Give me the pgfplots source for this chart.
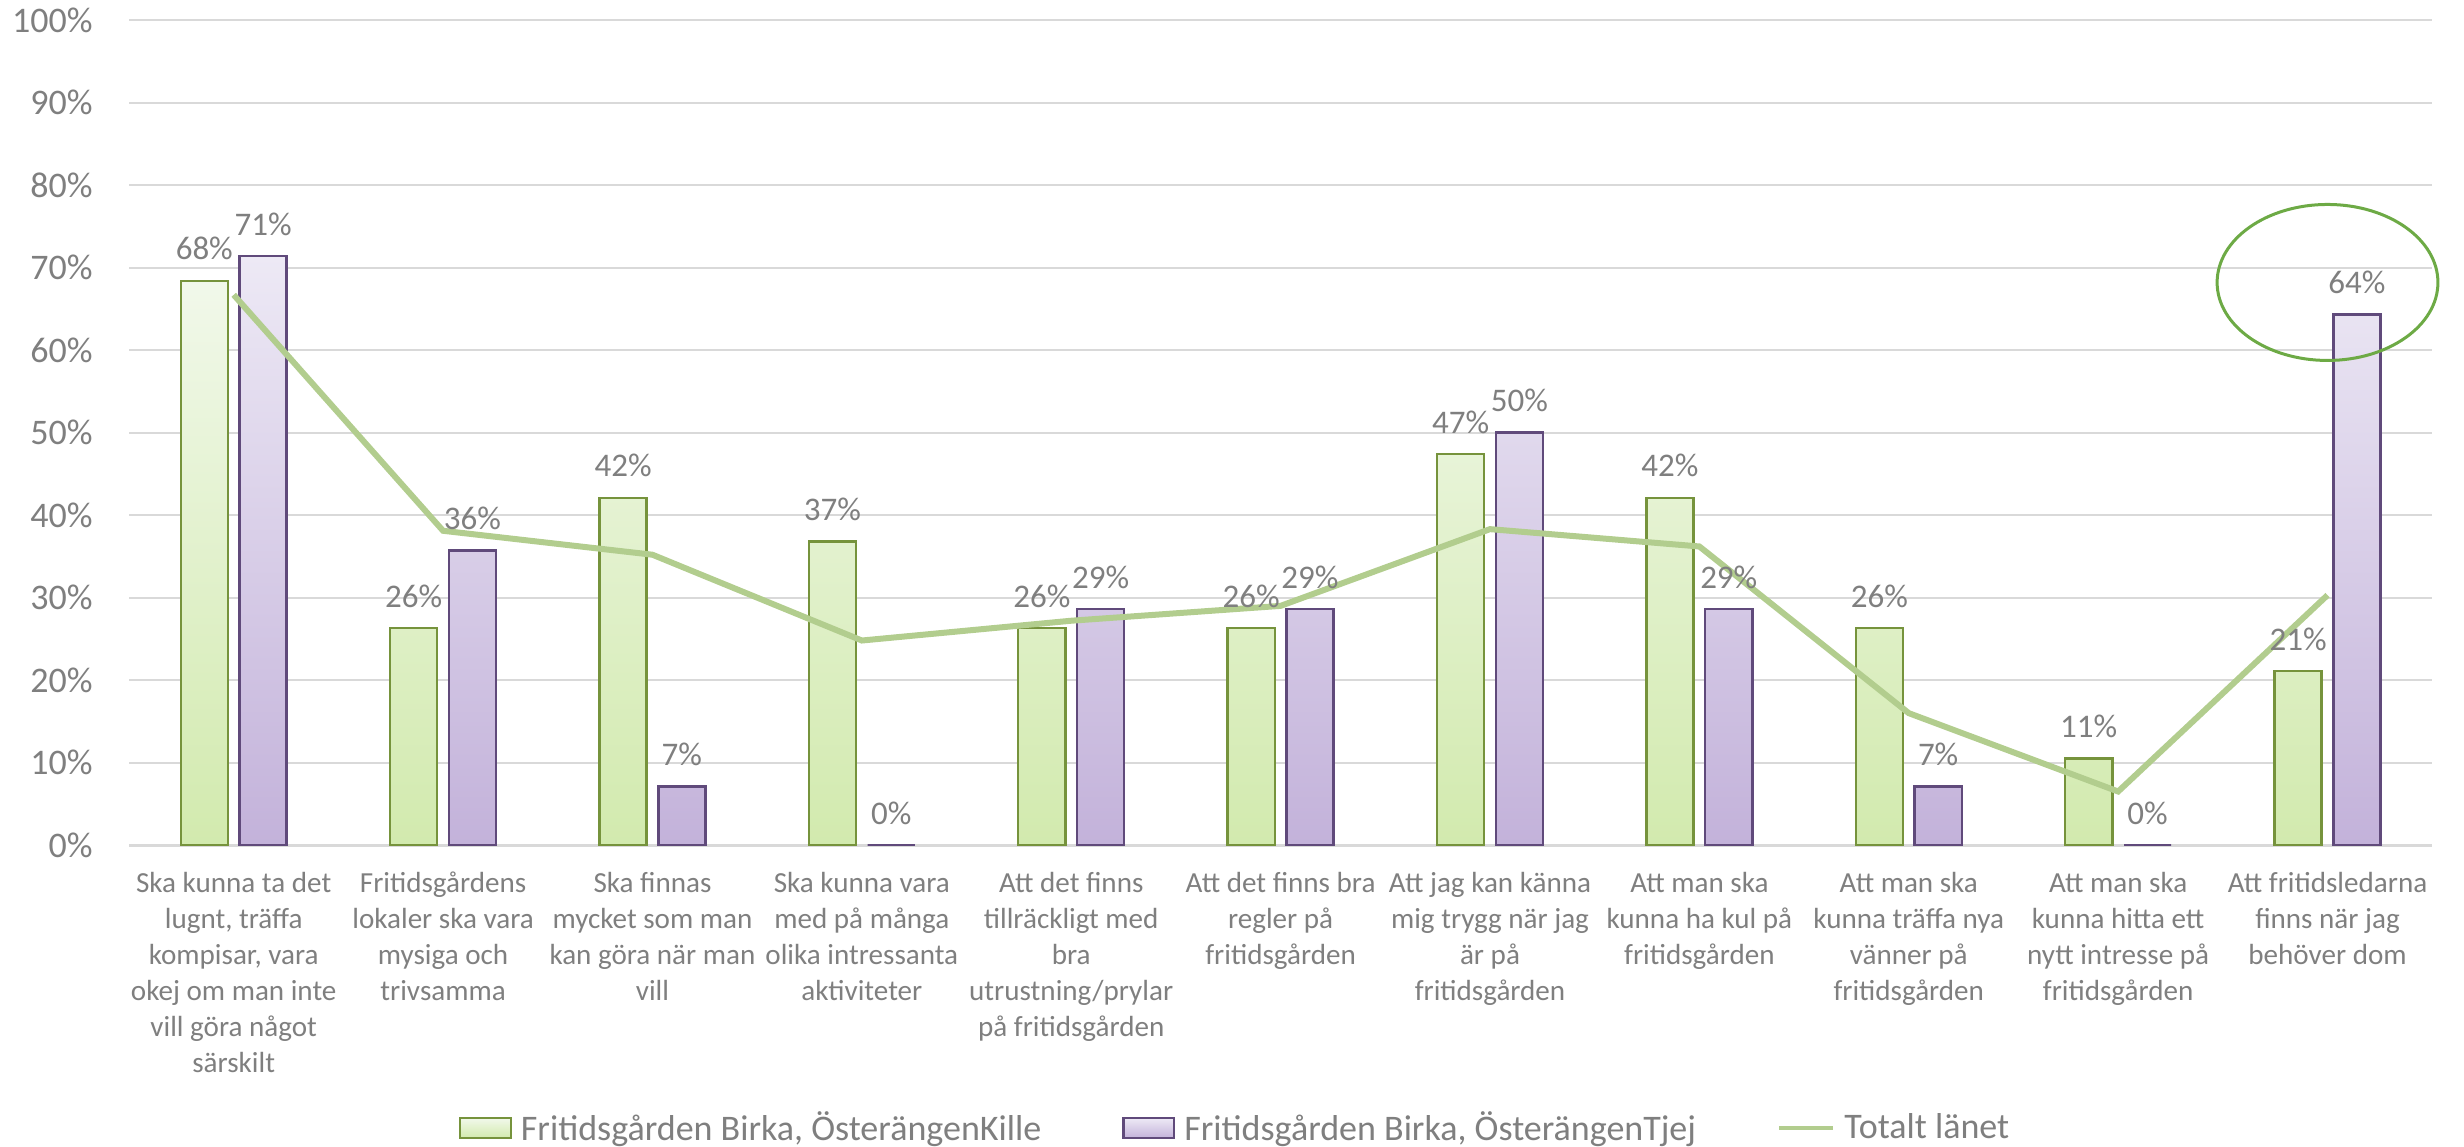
\documentclass[border=0pt]{standalone}
\usepackage{fontspec}
\setmainfont{Carlito}
\usepackage{pgfplots}
\pgfplotsset{compat=1.18}
\pgfplotsset{/pgf/number format/assume math mode=true}
\definecolor{txt}{HTML}{7F7F7F}
\definecolor{gridc}{HTML}{D9D9D9}
\definecolor{gborder}{HTML}{76933C}
\definecolor{gtop}{HTML}{F1F8EA}
\definecolor{gbot}{HTML}{D2EAAE}
\definecolor{pborder}{HTML}{604A7B}
\definecolor{ptop}{HTML}{EDE9F5}
\definecolor{pbot}{HTML}{C3B2DA}
\definecolor{tline}{HTML}{B2CD8E}
\definecolor{ell}{HTML}{6DAA45}
\begin{document}
\begin{tikzpicture}
\path[use as bounding box] (-43pt,-100.6pt) rectangle (778.3pt,281.7pt);
\begin{axis}[
  at={(0pt,0pt)}, anchor=south west,
  scale only axis, width=767.7pt, height=275pt,
  xmin=-0.5, xmax=10.5, ymin=0, ymax=100,
  axis lines*=left,
  y axis line style={draw=none},
  x axis line style={draw=gridc, line width=1pt},
  major tick length=0pt,
  ytick={0,10,...,100},
  ymajorgrids, grid style={draw=gridc, line width=0.7pt},
  yticklabel={\pgfmathprintnumber{\tick}\%},
  yticklabel style={font=\fontsize{12}{14}\selectfont, text=txt, inner sep=0pt, anchor=east, xshift=-11.9pt},
  xtick={0,...,10},
  xticklabels={
    {Ska kunna ta det\\lugnt, träffa\\kompisar, vara\\okej om man inte\\vill göra något\\särskilt},
    {Fritidsgårdens\\lokaler ska vara\\mysiga och\\trivsamma},
    {Ska finnas\\mycket som man\\kan göra när man\\vill},
    {Ska kunna vara\\med på många\\olika intressanta\\aktiviteter},
    {Att det finns\\tillräckligt med\\bra\\utrustning/prylar\\på fritidsgården},
    {Att det finns bra\\regler på\\fritidsgården},
    {Att jag kan känna\\mig trygg när jag\\är på\\fritidsgården},
    {Att man ska\\kunna ha kul på\\fritidsgården},
    {Att man ska\\kunna träffa nya\\vänner på\\fritidsgården},
    {Att man ska\\kunna hitta ett\\nytt intresse på\\fritidsgården},
    {Att fritidsledarna\\finns när jag\\behöver dom}},
  xticklabel style={font=\fontsize{9.7}{12}\selectfont, text=txt, align=center, inner sep=0pt, anchor=north, yshift=-8.8pt},
  clip=false,
  legend columns=3,
  legend style={at={(0.4798,-0.343)}, anchor=center, draw=none, fill=none,
    font=\fontsize{12}{14}\selectfont, text=txt,
    nodes={inner sep=0pt},
    /tikz/every odd column/.append style={column sep=3pt},
    /tikz/every even column/.append style={column sep=27pt}},
]
\addplot[ybar, bar width=15.7pt, bar shift=-9.8pt, draw=gborder, line width=0.8pt,
  top color=gtop, bottom color=gbot,
  nodes near coords={\pgfmathprintnumber[fixed,precision=0]{\pgfplotspointmeta}\%},
  every node near coord/.append style={font=\fontsize{11}{13}\selectfont, text=txt, anchor=base, yshift=7pt, xshift=-9.8pt},
  legend image code/.code={\draw[draw=gborder, line width=0.8pt, top color=gtop, bottom color=gbot] (0pt,-3.3pt) rectangle (16.9pt,3.3pt);}]
coordinates {(0,68.4) (1,26.3) (2,42.1) (3,36.8) (4,26.3) (5,26.3) (6,47.4) (7,42.1) (8,26.3) (9,10.5) (10,21.1)};
\addlegendentry{Fritidsgården Birka, ÖsterängenKille}
\addplot[ybar, bar width=15.7pt, bar shift=9.8pt, draw=pborder, line width=0.8pt,
  top color=ptop, bottom color=pbot,
  nodes near coords={\pgfmathprintnumber[fixed,precision=0]{\pgfplotspointmeta}\%},
  every node near coord/.append style={font=\fontsize{11}{13}\selectfont, text=txt, anchor=base, yshift=7pt, xshift=9.8pt},
  legend image code/.code={\draw[draw=pborder, line width=0.8pt, top color=ptop, bottom color=pbot] (0pt,-3.3pt) rectangle (16.9pt,3.3pt);}]
coordinates {(0,71.4) (1,35.7) (2,7.1) (3,0) (4,28.6) (5,28.6) (6,50.0) (7,28.6) (8,7.1) (9,0) (10,64.3)};
\addlegendentry{Fritidsgården Birka, ÖsterängenTjej}
\addplot[sharp plot, no marks, draw=tline, line width=2pt,
  legend image code/.code={\draw[draw=tline, line width=1.5pt] (0pt,0pt) -- (18pt,0pt);}]
coordinates {(0,66.7) (1,38.1) (2,35.2) (3,24.8) (4,27.2) (5,29.0) (6,38.3) (7,36.2) (8,16.0) (9,6.5) (10,30.3)};
\addlegendentry{Totalt länet}
\draw[ell, line width=1pt] (axis cs:10,68.2) ellipse [x radius=36.8pt, y radius=26pt];
\end{axis}
\end{tikzpicture}
\end{document}
